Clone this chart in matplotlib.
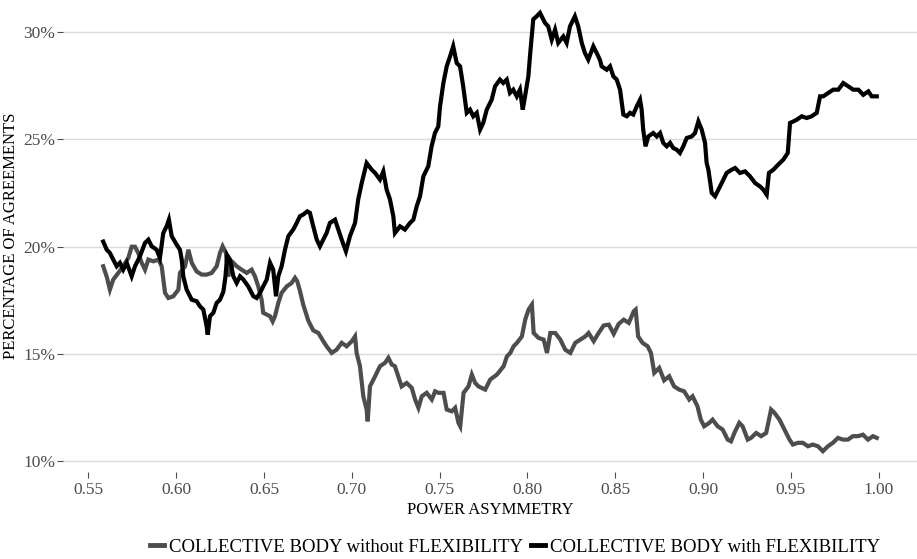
import matplotlib
matplotlib.use("Agg")
import matplotlib.pyplot as plt
from matplotlib.lines import Line2D
from matplotlib.ticker import FuncFormatter

plt.rcParams['font.family'] = ['Liberation Serif', 'DejaVu Serif']

# Power asymmetry (x) and agreement rate in percent (y), per model variant
x_with = [
    0.5584, 0.5604, 0.5622, 0.5641, 0.5661, 0.5679, 0.5698, 0.5718, 0.5746, 0.5765,
    0.5793, 0.5822, 0.5841, 0.5860, 0.5888, 0.5907, 0.5926, 0.5945, 0.5958, 0.5974,
    0.6002, 0.6021, 0.6031, 0.6040, 0.6059, 0.6088, 0.6116, 0.6135, 0.6154, 0.6173,
    0.6179, 0.6192, 0.6211, 0.6230, 0.6249, 0.6268, 0.6280, 0.6290, 0.6306, 0.6325,
    0.6344, 0.6363, 0.6382, 0.6410, 0.6439, 0.6458, 0.6477, 0.6495, 0.6515, 0.6534,
    0.6552, 0.6568, 0.6581, 0.6600, 0.6619, 0.6638, 0.6666, 0.6686, 0.6704, 0.6723,
    0.6746, 0.6761, 0.6780, 0.6800, 0.6818, 0.6837, 0.6856, 0.6875, 0.6904, 0.6923,
    0.6942, 0.6966, 0.6989, 0.7018, 0.7036, 0.7056, 0.7084, 0.7113, 0.7132, 0.7160,
    0.7179, 0.7198, 0.7217, 0.7236, 0.7245, 0.7274, 0.7302, 0.7331, 0.7350, 0.7369,
    0.7388, 0.7407, 0.7435, 0.7454, 0.7473, 0.7492, 0.7502, 0.7521, 0.7540, 0.7559,
    0.7577, 0.7597, 0.7616, 0.7634, 0.7654, 0.7673, 0.7691, 0.7711, 0.7730, 0.7748,
    0.7768, 0.7796, 0.7815, 0.7843, 0.7862, 0.7882, 0.7900, 0.7919, 0.7939, 0.7957,
    0.7973, 0.7986, 0.8005, 0.8014, 0.8033, 0.8052, 0.8071, 0.8100, 0.8118, 0.8138,
    0.8157, 0.8175, 0.8204, 0.8223, 0.8242, 0.8270, 0.8289, 0.8309, 0.8327, 0.8346,
    0.8375, 0.8394, 0.8413, 0.8422, 0.8451, 0.8470, 0.8489, 0.8508, 0.8527, 0.8537,
    0.8546, 0.8565, 0.8584, 0.8602, 0.8622, 0.8641, 0.8650, 0.8659, 0.8672, 0.8688,
    0.8716, 0.8736, 0.8755, 0.8773, 0.8793, 0.8812, 0.8830, 0.8850, 0.8868, 0.8887,
    0.8907, 0.8935, 0.8954, 0.8973, 0.8992, 0.9011, 0.9020, 0.9030, 0.9049, 0.9068,
    0.9087, 0.9106, 0.9134, 0.9163, 0.9182, 0.9210, 0.9239, 0.9267, 0.9296, 0.9324,
    0.9343, 0.9362, 0.9375, 0.9400, 0.9428, 0.9457, 0.9482, 0.9495, 0.9514, 0.9533,
    0.9562, 0.9590, 0.9618, 0.9647, 0.9666, 0.9684, 0.9713, 0.9741, 0.9770, 0.9798,
    0.9827, 0.9855, 0.9884, 0.9912, 0.9941, 0.9960, 0.9989,
]
y_with = [
    20.24, 19.86, 19.71, 19.40, 19.09, 19.25, 18.93, 19.25, 18.62, 19.09,
    19.55, 20.18, 20.33, 20.02, 19.86, 19.48, 20.64, 20.95, 21.26, 20.49,
    20.10, 19.86, 19.40, 18.62, 18.00, 17.53, 17.46, 17.22, 17.07, 16.29,
    15.90, 16.76, 16.92, 17.38, 17.53, 17.90, 18.60, 19.60, 19.40, 18.62,
    18.31, 18.62, 18.47, 18.15, 17.69, 17.61, 17.85, 18.15, 18.47, 19.25,
    18.93, 17.69, 18.62, 19.09, 19.86, 20.49, 20.80, 21.11, 21.42, 21.50,
    21.65, 21.58, 20.95, 20.33, 20.02, 20.33, 20.64, 21.11, 21.26, 20.80,
    20.33, 19.79, 20.49, 21.11, 22.20, 22.97, 23.90, 23.59, 23.44, 23.13,
    23.51, 22.66, 22.20, 21.42, 20.64, 20.95, 20.80, 21.11, 21.26, 21.88,
    22.35, 23.28, 23.75, 24.68, 25.30, 25.61, 26.54, 27.63, 28.41, 28.87,
    29.34, 28.56, 28.41, 27.47, 26.24, 26.39, 26.08, 26.24, 25.46, 25.77,
    26.39, 26.85, 27.47, 27.79, 27.63, 27.79, 27.17, 27.32, 27.01, 27.32,
    26.39, 27.01, 27.95, 28.87, 30.60, 30.74, 30.90, 30.43, 30.27, 29.65,
    30.12, 29.50, 29.80, 29.50, 30.27, 30.74, 30.27, 29.50, 29.03, 28.72,
    29.34, 29.03, 28.70, 28.41, 28.25, 28.41, 27.94, 27.79, 27.32, 26.70,
    26.16, 26.08, 26.24, 26.16, 26.54, 26.85, 26.39, 25.46, 24.68, 25.14,
    25.30, 25.14, 25.30, 24.84, 24.68, 24.84, 24.60, 24.52, 24.37, 24.68,
    25.07, 25.14, 25.30, 25.84, 25.46, 24.84, 23.91, 23.59, 22.51, 22.35,
    22.66, 22.97, 23.44, 23.59, 23.67, 23.44, 23.51, 23.28, 22.97, 22.81,
    22.66, 22.43, 23.44, 23.59, 23.83, 24.06, 24.37, 25.77, 25.84, 25.92,
    26.08, 26.00, 26.08, 26.24, 27.01, 27.01, 27.17, 27.32, 27.32, 27.63,
    27.47, 27.32, 27.32, 27.08, 27.24, 27.01, 27.01,
]

x_without = [
    0.5584, 0.5604, 0.5622, 0.5641, 0.5670, 0.5698, 0.5727, 0.5746, 0.5765, 0.5784,
    0.5803, 0.5822, 0.5841, 0.5869, 0.5898, 0.5917, 0.5936, 0.5955, 0.5983, 0.6012,
    0.6021, 0.6050, 0.6069, 0.6088, 0.6116, 0.6145, 0.6173, 0.6202, 0.6230, 0.6249,
    0.6264, 0.6283, 0.6296, 0.6325, 0.6344, 0.6372, 0.6401, 0.6429, 0.6448, 0.6467,
    0.6486, 0.6495, 0.6515, 0.6534, 0.6549, 0.6562, 0.6581, 0.6600, 0.6629, 0.6657,
    0.6676, 0.6689, 0.6704, 0.6723, 0.6752, 0.6780, 0.6809, 0.6837, 0.6856, 0.6885,
    0.6913, 0.6942, 0.6970, 0.6999, 0.7018, 0.7027, 0.7046, 0.7065, 0.7084, 0.7090,
    0.7103, 0.7132, 0.7160, 0.7189, 0.7208, 0.7227, 0.7245, 0.7264, 0.7283, 0.7312,
    0.7341, 0.7360, 0.7379, 0.7398, 0.7426, 0.7455, 0.7474, 0.7493, 0.7522, 0.7540,
    0.7569, 0.7588, 0.7607, 0.7617, 0.7636, 0.7664, 0.7683, 0.7702, 0.7721, 0.7759,
    0.7788, 0.7826, 0.7864, 0.7883, 0.7902, 0.7921, 0.7940, 0.7968, 0.7987, 0.8006,
    0.8025, 0.8035, 0.8063, 0.8092, 0.8111, 0.8130, 0.8158, 0.8187, 0.8215, 0.8244,
    0.8272, 0.8301, 0.8329, 0.8348, 0.8377, 0.8405, 0.8434, 0.8463, 0.8491, 0.8519,
    0.8548, 0.8577, 0.8605, 0.8616, 0.8630, 0.8655, 0.8684, 0.8703, 0.8722, 0.8750,
    0.8778, 0.8807, 0.8835, 0.8864, 0.8892, 0.8921, 0.8940, 0.8968, 0.8987, 0.9006,
    0.9035, 0.9054, 0.9083, 0.9111, 0.9140, 0.9159, 0.9178, 0.9206, 0.9225, 0.9254,
    0.9273, 0.9302, 0.9330, 0.9359, 0.9387, 0.9406, 0.9435, 0.9463, 0.9492, 0.9511,
    0.9540, 0.9568, 0.9597, 0.9625, 0.9654, 0.9682, 0.9711, 0.9739, 0.9768, 0.9796,
    0.9825, 0.9853, 0.9882, 0.9910, 0.9939, 0.9967, 0.9989,
]
y_without = [
    19.09, 18.60, 18.00, 18.47, 18.78, 19.09, 19.48, 20.00, 20.00, 19.70,
    19.25, 18.93, 19.40, 19.32, 19.40, 19.09, 17.85, 17.61, 17.69, 18.00,
    18.78, 19.09, 19.86, 19.25, 18.85, 18.70, 18.70, 18.78, 19.09, 19.71,
    20.02, 19.71, 18.62, 19.25, 19.09, 18.93, 18.78, 18.93, 18.62, 18.15,
    17.53, 16.92, 16.84, 16.76, 16.52, 16.76, 17.38, 17.85, 18.15, 18.31,
    18.55, 18.39, 17.95, 17.30, 16.55, 16.10, 15.98, 15.60, 15.36, 15.05,
    15.20, 15.52, 15.36, 15.59, 15.82, 15.05, 14.43, 13.03, 12.41, 11.86,
    13.49, 13.96, 14.43, 14.59, 14.82, 14.51, 14.43, 13.96, 13.49, 13.65,
    13.42, 12.88, 12.49, 13.03, 13.19, 12.88, 13.26, 13.19, 13.19, 12.41,
    12.33, 12.49, 11.79, 11.63, 13.19, 13.49, 14.04, 13.65, 13.49, 13.34,
    13.81, 14.04, 14.43, 14.89, 15.05, 15.36, 15.52, 15.82, 16.60, 17.07,
    17.30, 15.98, 15.75, 15.67, 15.05, 15.98, 15.98, 15.67, 15.20, 15.05,
    15.52, 15.67, 15.82, 15.98, 15.60, 15.98, 16.33, 16.37, 15.94, 16.40,
    16.60, 16.45, 16.99, 17.07, 15.82, 15.52, 15.36, 15.05, 14.12, 14.35,
    13.77, 13.96, 13.49, 13.34, 13.26, 12.88, 13.03, 12.56, 11.94, 11.63,
    11.79, 11.94, 11.63, 11.48, 11.01, 10.93, 11.32, 11.79, 11.63, 11.01,
    11.09, 11.32, 11.17, 11.32, 12.41, 12.26, 11.94, 11.48, 11.01, 10.78,
    10.86, 10.86, 10.70, 10.78, 10.70, 10.47, 10.70, 10.86, 11.09, 11.01,
    11.01, 11.17, 11.17, 11.24, 11.01, 11.17, 11.09,
]

x_ticks = [0.55, 0.60, 0.65, 0.70, 0.75, 0.80, 0.85, 0.90, 0.95, 1.00]
y_ticks = [10, 15, 20, 25, 30]
label_without = "COLLECTIVE BODY without FLEXIBILITY"
label_with = "COLLECTIVE BODY with FLEXIBILITY"

color_without = "#4D4D4D"
color_with = "#000000"
lw = 3.0

fig = plt.figure(figsize=(9.17, 5.59), dpi=100)
ax = fig.add_axes([63 / 917, 87 / 559, 854 / 917, 472 / 559])

ax.plot(x_without, y_without, color=color_without, lw=lw,
        solid_joinstyle='miter', zorder=3)
ax.plot(x_with, y_with, color=color_with, lw=lw,
        solid_joinstyle='miter', zorder=4)

ax.set_xlim(0.5355, 1.0218)
ax.set_ylim(9.5, 31.5)
ax.set_xticks(x_ticks)
ax.set_yticks(y_ticks)
ax.xaxis.set_major_formatter(FuncFormatter(lambda v, p: f"{v:.2f}"))
ax.yaxis.set_major_formatter(FuncFormatter(lambda v, p: f"{v:.0f}%"))

for s in ax.spines.values():
    s.set_visible(False)
ax.grid(axis='y', color='#DADADA', lw=1.0, zorder=0)
ax.grid(axis='x', visible=False)
ax.tick_params(axis='both', colors='#4D4D4D', labelsize=12.5, length=4, width=0.8)
ax.tick_params(axis='y', pad=1.5)
ax.tick_params(axis='x', pad=3)

ax.set_xlabel("POWER ASYMMETRY", fontsize=12, labelpad=3)
ax.set_ylabel("PERCENTAGE OF AGREEMENTS", fontsize=12, labelpad=3)

handles = [Line2D([], [], color=color_without, lw=3.5),
           Line2D([], [], color=color_with, lw=3.5)]
fig.legend(handles, [label_without, label_with], loc='center',
           bbox_to_anchor=(515 / 917, 1 - 547 / 559), ncol=2, frameon=False,
           fontsize=13.5, handlelength=0.75, handletextpad=0.3, columnspacing=0.4,
           borderaxespad=0)

fig.savefig("out.png", dpi=100)
